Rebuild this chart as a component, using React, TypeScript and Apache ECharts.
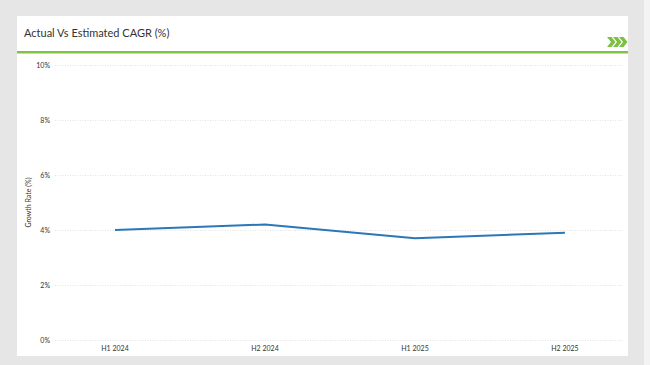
import React, { useEffect, useRef } from "react";
import * as echarts from "echarts";

const categories = ["H1 2024", "H2 2024", "H1 2025", "H2 2025"];
const growthRate = [4.0, 4.2, 3.7, 3.9];
const yTicks = [0, 2, 4, 6, 8, 10];

export default function App() {
  const ref = useRef<HTMLDivElement>(null);
  useEffect(() => {
    if (!ref.current) return;
    const chart = echarts.init(ref.current, null, { renderer: "svg" });
    const font = "Lato, 'Open Sans', sans-serif";
    const chevron = (x0: number) => ({
      type: "polygon",
      shape: {
        points: [
          [x0, 37],
          [x0 + 4.5, 37],
          [x0 + 8.5, 42],
          [x0 + 4.5, 47],
          [x0, 47],
          [x0 + 4, 42],
        ],
      },
      style: { fill: "#7cc143" },
      silent: true,
    });
    chart.setOption({
      animation: false,
      backgroundColor: "#e6e6e6",
      graphic: [
        { type: "rect", shape: { x: 17, y: 16, width: 611, height: 340 }, style: { fill: "#ffffff" }, z: -10 },
        { type: "rect", shape: { x: 644, y: 0, width: 6, height: 365 }, style: { fill: "#f3f3f3" }, z: -10 },
        { type: "rect", shape: { x: 17, y: 51, width: 611, height: 2.5 }, style: { fill: "#82c341" }, z: 1 },
        {
          type: "text",
          x: 24,
          y: 32,
          style: { text: "Actual Vs Estimated CAGR (%)", fill: "#333333", font: `11px ${font}`, verticalAlign: "middle" },
        },
        chevron(607),
        chevron(613),
        chevron(619),
      ],
      grid: { left: 55, right: 27, top: 65, bottom: 25, containLabel: false },
      xAxis: {
        type: "value",
        min: -0.4,
        max: 3.387,
        axisLine: { show: false },
        axisTick: { show: false },
        splitLine: { show: false },
        axisLabel: {
          customValues: [0, 1, 2, 3],
          formatter: (v: number) => categories[Math.round(v)] ?? "",
          fontSize: 7,
          color: "#333333",
          fontFamily: font,
          margin: 4,
        },
      },
      yAxis: {
        type: "value",
        min: yTicks[0],
        max: yTicks[yTicks.length - 1],
        interval: 2,
        name: "Growth Rate (%)",
        nameLocation: "middle",
        nameGap: 24,
        nameMoveOverlap: false,
        nameTextStyle: { fontSize: 7, color: "#333333", fontFamily: font },
        axisLine: { show: false },
        axisTick: { show: false },
        axisLabel: {
          formatter: "{value}%",
          fontSize: 7,
          color: "#333333",
          fontFamily: font,
          margin: 5,
        },
        splitLine: { lineStyle: { color: "#e2e2e2", type: [1, 1.5], width: 1 } },
      },
      series: [
        {
          type: "line",
          data: growthRate.map((v, i) => [i, v]),
          symbol: "none",
          lineStyle: { color: "#2a78b8", width: 2 },
        },
      ],
    });
    return () => chart.dispose();
  }, []);
  return <div ref={ref} style={{ position: "fixed", left: 0, top: 0, width: 650, height: 365 }} />;
}
